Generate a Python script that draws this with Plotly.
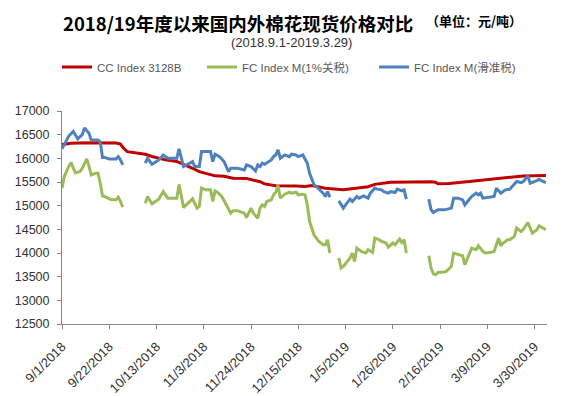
import plotly.graph_objects as go

# ---------------- data ----------------
cc_dates = ["2018-09-01","2018-09-05","2018-09-13","2018-09-25","2018-09-27","2018-09-28","2018-09-30",
            "2018-10-08","2018-10-11","2018-10-17","2018-10-22","2018-10-26","2018-10-29","2018-11-01",
            "2018-11-05","2018-11-08","2018-11-12","2018-11-16","2018-11-22","2018-11-26","2018-11-28",
            "2018-11-30","2018-12-03","2018-12-05","2018-12-14","2018-12-18","2018-12-21","2018-12-24",
            "2018-12-27","2019-01-04","2019-01-11","2019-01-15","2019-01-18","2019-01-21","2019-01-25",
            "2019-02-12","2019-02-14","2019-02-15","2019-02-20","2019-03-01","2019-03-08","2019-03-15",
            "2019-03-19","2019-03-25","2019-04-04"]
cc_values = [16290,16320,16330,16325,16300,16235,16140,
             16085,16040,15967,15935,15861,15790,15720,
             15670,15630,15620,15580,15575,15525,15505,
             15460,15440,15420,15415,15405,15425,15405,
             15370,15335,15370,15400,15450,15475,15495,
             15505,15495,15465,15470,15510,15545,15580,
             15600,15629,15635]

fc1_dates = ["2018-09-01","2018-09-02","2018-09-04","2018-09-05","2018-09-07","2018-09-09","2018-09-10",
             "2018-09-12","2018-09-13","2018-09-14","2018-09-16","2018-09-17","2018-09-18","2018-09-19",
             "2018-09-20","2018-09-23","2018-09-25","2018-09-26","2018-09-27","2018-09-28","2018-10-03",
             "2018-10-08","2018-10-09","2018-10-11","2018-10-14","2018-10-16","2018-10-18","2018-10-20",
             "2018-10-22","2018-10-23","2018-10-25","2018-10-27","2018-10-29","2018-10-31","2018-11-01",
             "2018-11-02","2018-11-04","2018-11-06","2018-11-07","2018-11-08","2018-11-09","2018-11-11",
             "2018-11-13","2018-11-15","2018-11-16","2018-11-18","2018-11-21","2018-11-22","2018-11-24",
             "2018-11-25","2018-11-27","2018-11-28","2018-11-29","2018-11-30","2018-12-01","2018-12-03",
             "2018-12-04","2018-12-05","2018-12-06","2018-12-07","2018-12-09","2018-12-11","2018-12-12",
             "2018-12-14","2018-12-15","2018-12-17","2018-12-18","2018-12-19","2018-12-20","2018-12-22",
             "2018-12-24","2018-12-26","2018-12-27","2018-12-28","2018-12-29","2018-12-31",
             "2019-01-02","2019-01-03","2019-01-04","2019-01-07","2019-01-08","2019-01-09","2019-01-10",
             "2019-01-12","2019-01-14","2019-01-15","2019-01-17","2019-01-18","2019-01-20","2019-01-21",
             "2019-01-23","2019-01-24","2019-01-26","2019-01-27","2019-01-29","2019-01-30","2019-01-31",
             "2019-02-01","2019-02-06",
             "2019-02-11","2019-02-12","2019-02-13","2019-02-14","2019-02-15","2019-02-18","2019-02-19",
             "2019-02-21","2019-02-22","2019-02-24","2019-02-26","2019-02-27","2019-03-01","2019-03-02",
             "2019-03-04","2019-03-05","2019-03-07","2019-03-08","2019-03-10","2019-03-12","2019-03-14",
             "2019-03-15","2019-03-16","2019-03-18","2019-03-19","2019-03-21","2019-03-22","2019-03-24",
             "2019-03-25","2019-03-27","2019-03-29","2019-03-31","2019-04-01","2019-04-02","2019-04-04"]
fc1_values = [15370,15615,15830,15910,15690,15720,15790,
              15990,15830,15650,15686,15686,15475,15205,
              15193,15123,15123,15180,15087,14969,None,
              15053,15193,15039,15138,15298,15159,15159,
              15159,15450,14960,15053,15144,14948,14983,
              15370,15334,15334,15087,15313,15285,15193,
              15018,14842,14891,14891,14842,14750,14948,
              14842,14736,14948,15018,14983,15087,15123,
              15229,15285,15425,15159,15243,15285,15264,
              15285,15229,15243,15229,15018,14665,14380,
              14250,14174,14174,14280,14000,None,
              13894,13683,13717,13894,13999,13822,14104,
              14033,13999,14069,14012,14315,14280,14244,
              14210,14125,14210,14174,14294,14222,14280,
              13999,None,
              13942,13683,13560,13540,13590,13600,13620,
              13717,13999,13964,13943,13752,13999,14104,
              14069,14153,14033,13999,14012,14033,14315,
              14153,14210,14280,14280,14350,14526,14455,
              14500,14645,14420,14490,14575,14547,14490]

fcs_dates = ["2018-09-01","2018-09-03","2018-09-04","2018-09-06","2018-09-08","2018-09-10","2018-09-11",
             "2018-09-13","2018-09-14","2018-09-17","2018-09-18","2018-09-19","2018-09-20","2018-09-22",
             "2018-09-25","2018-09-26","2018-09-27","2018-09-28","2018-10-03",
             "2018-10-08","2018-10-09","2018-10-11","2018-10-14","2018-10-16","2018-10-18","2018-10-20",
             "2018-10-22","2018-10-23","2018-10-25","2018-10-29","2018-10-30","2018-11-01","2018-11-02",
             "2018-11-04","2018-11-06","2018-11-07","2018-11-08","2018-11-10","2018-11-12","2018-11-14",
             "2018-11-15","2018-11-18","2018-11-21","2018-11-22","2018-11-24","2018-11-26","2018-11-27",
             "2018-11-28","2018-11-29","2018-11-30","2018-12-03","2018-12-04","2018-12-05","2018-12-06",
             "2018-12-07","2018-12-09","2018-12-11","2018-12-12","2018-12-14","2018-12-15","2018-12-17",
             "2018-12-19","2018-12-20","2018-12-22","2018-12-23","2018-12-26","2018-12-27","2018-12-28",
             "2018-12-29","2018-12-31",
             "2019-01-02","2019-01-04","2019-01-05","2019-01-07","2019-01-08","2019-01-10","2019-01-11",
             "2019-01-13","2019-01-15","2019-01-16","2019-01-18","2019-01-19","2019-01-21","2019-01-22",
             "2019-01-24","2019-01-25","2019-01-27","2019-01-28","2019-01-30","2019-01-31","2019-02-01",
             "2019-02-06",
             "2019-02-11","2019-02-12","2019-02-13","2019-02-15","2019-02-18","2019-02-21","2019-02-22",
             "2019-02-24","2019-02-26","2019-02-27","2019-03-02","2019-03-04","2019-03-05","2019-03-06",
             "2019-03-07","2019-03-10","2019-03-12","2019-03-13","2019-03-15","2019-03-17","2019-03-19",
             "2019-03-20","2019-03-22","2019-03-24","2019-03-25","2019-03-27","2019-03-28","2019-03-31",
             "2019-04-01","2019-04-02","2019-04-04"]
fcs_values = [16200,16360,16470,16570,16410,16500,16640,
              16530,16385,16385,16350,16020,16020,15985,
              15985,16035,15965,15860,None,
              15897,16002,15876,15967,16072,16002,16002,
              16002,16200,15826,15931,15826,15826,16142,
              16142,16142,15931,16087,16036,15931,15720,
              15790,15790,15756,15861,15826,15735,15861,
              15826,15897,15876,15967,16036,16072,16178,
              16002,16072,16036,16087,16072,16036,16072,
              15897,15686,15440,15404,15264,15193,15298,
              15180,None,
              15102,14948,15018,15138,15087,15193,15159,
              15207,15159,15264,15370,15349,15334,15298,
              15264,15298,15278,15349,15313,15334,15138,
              None,
              15138,14912,14856,14912,14912,14948,15159,
              15159,15123,15018,15193,15264,15229,15264,
              15159,15180,15193,15370,15264,15334,15349,
              15404,15510,15488,15510,15629,15475,15530,
              15559,15530,15488]

series_names = ["CC Index 3128B", "FC Index M(1%关税)", "FC Index M(滑准税)"]
series_colors = ["#C00000", "#9BBB59", "#4F81BD"]

tick_dates = ["2018-09-01","2018-09-22","2018-10-13","2018-11-03","2018-11-24","2018-12-15",
              "2019-01-05","2019-01-26","2019-02-16","2019-03-09","2019-03-30"]
tick_labels = ["9/1/2018","9/22/2018","10/13/2018","11/3/2018","11/24/2018","12/15/2018",
               "1/5/2019","1/26/2019","2/16/2019","3/9/2019","3/30/2019"]
y_ticks = [12500,13000,13500,14000,14500,15000,15500,16000,16500,17000]
y_tick_labels = ["12500","13000","13500","14000","14500","15000","15500","16000","16500","17000"]

title_text = "2018/19年度以来国内外棉花现货价格对比"
unit_text = "（单位：元/吨）"
subtitle_text = "(2018.9.1-2019.3.29)"

# ---------------- figure ----------------
fig = go.Figure()
all_x = [cc_dates, fc1_dates, fcs_dates]
all_y = [cc_values, fc1_values, fcs_values]
legend_ids = ["legend", "legend2", "legend3"]
for i in range(3):
    fig.add_trace(go.Scatter(
        x=all_x[i], y=all_y[i], mode="lines", name=series_names[i],
        line=dict(color=series_colors[i], width=3),
        connectgaps=(i == 0), legend=legend_ids[i], hoverinfo="skip"))

OFF = 8  # page body margin
W, H = 561 - OFF, 396 - OFF
L, R, T, B = 62 - OFF, 14, 111 - OFF, 396 - 324
pw, ph = W - L - R, H - T - B

def px_x(p):  # page pixel -> paper
    return (p - OFF - L) / pw

def px_y(p):
    return 1 + (T - (p - OFF)) / ph

leg_font = dict(family="Liberation Sans, Noto Sans CJK SC", size=11.5, color="#595959")
leg_common = dict(orientation="h", yanchor="middle", xanchor="left", y=px_y(67),
                  bgcolor="rgba(0,0,0,0)", borderwidth=0, font=leg_font)
fig.update_layout(
    legend=dict(x=px_x(57), **leg_common),
    legend2=dict(x=px_x(202), **leg_common),
    legend3=dict(x=px_x(374), **leg_common),
)

axis_col = "#868686"
fig.update_xaxes(
    type="date", range=["2018-09-01", "2019-04-04 12:00"],
    tickvals=tick_dates, ticktext=tick_labels, tickangle=-45,
    showline=True, linecolor=axis_col, linewidth=1,
    ticks="outside", ticklen=4, tickcolor=axis_col,
    showgrid=False, zeroline=False, ticklabelstandoff=5,
    tickfont=dict(family="Liberation Sans", size=13, color="#333333"))
fig.update_yaxes(
    range=[12500, 17000], tickvals=y_ticks, ticktext=y_tick_labels,
    showline=True, linecolor=axis_col, linewidth=1,
    ticks="outside", ticklen=4, tickcolor=axis_col,
    showgrid=False, zeroline=False, ticklabelstandoff=5,
    tickfont=dict(family="Liberation Sans", size=12.5, color="#333333"))

fig.add_annotation(text="<b>" + title_text + "</b>", xref="paper", yref="paper",
                   x=px_x(61), y=px_y(OFF), xanchor="left", yanchor="top", showarrow=False,
                   font=dict(family="Noto Sans CJK SC", size=18.5, color="#000000"))
fig.add_annotation(text="<b>" + unit_text + "</b>", xref="paper", yref="paper",
                   x=px_x(424), y=px_y(20), xanchor="left", yanchor="middle", showarrow=False,
                   font=dict(family="Noto Sans CJK SC", size=13, color="#000000"))
fig.add_annotation(text=subtitle_text, xref="paper", yref="paper",
                   x=px_x(291), y=px_y(42), xanchor="center", yanchor="middle", showarrow=False,
                   font=dict(family="Liberation Sans", size=13, color="#333333"))

fig.update_layout(
    width=W, height=H, margin=dict(l=L, r=R, t=T, b=B, autoexpand=False),
    paper_bgcolor="white", plot_bgcolor="white", showlegend=True,
)

fig.write_html("out.html")
